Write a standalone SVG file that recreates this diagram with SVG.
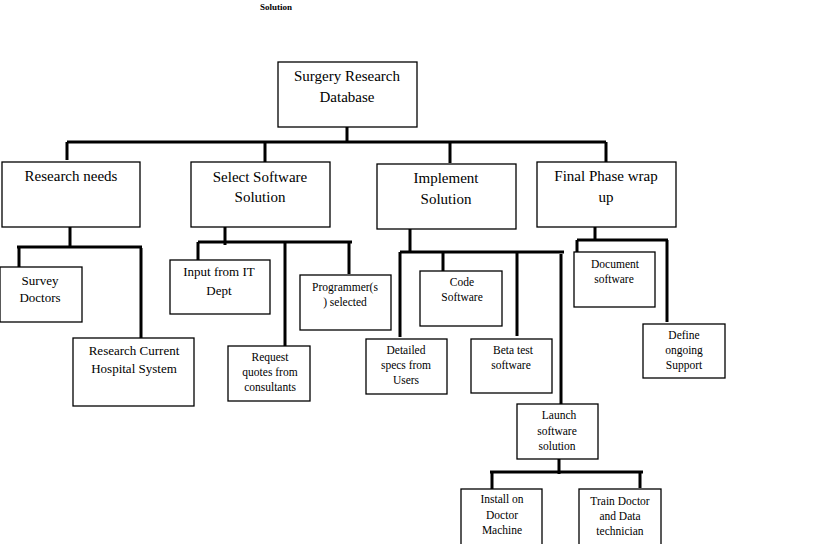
<svg xmlns="http://www.w3.org/2000/svg" width="819" height="544" viewBox="0 0 819 544">
<style>
.b{fill:#fff;stroke:#000;stroke-width:1.3}
.c{stroke:#000;stroke-width:3;fill:none}
text{font-family:"Liberation Serif","DejaVu Serif",serif;fill:#000;text-anchor:middle}
.l{font-size:15px}.s{font-size:11.5px}
</style>
<rect width="819" height="544" fill="#fff"/>
<text x="276" y="10" style="font-size:9px;font-weight:bold">Solution</text>
<g id="connectors" class="c">
<path d="M347 127V142M67 142H606M67 142V160M265 142V162M450 142V163M606 142V162"/>
<path d="M70 227V248M17 247H142M19 247V267M141 248V338"/>
<path d="M225 227V245M198 242H352M198 242V260M285 242V346M349 242V274"/>
<path d="M410 229V252M400 252H564M400 252V337M443 252V271M517 252V336M561 254V404"/>
<path d="M559 459V474M490 472H643M492 472V489M640 472V488"/>
<path d="M595 227V240M577 240H668M577 240V252M667 240V322"/>
</g>
<g id="root"><rect class="b" x="278" y="62" width="139" height="65"/><text class="l" x="347" y="81">Surgery Research</text><text class="l" x="347" y="102">Database</text></g>
<g id="research"><rect class="b" x="2" y="162" width="138" height="65"/><text class="l" x="71" y="181">Research needs</text></g>
<g id="select"><rect class="b" x="191" y="162" width="139" height="65"/><text class="l" x="260" y="182">Select Software</text><text class="l" x="260" y="202">Solution</text></g>
<g id="implement"><rect class="b" x="377" y="164" width="139" height="65"/><text class="l" x="446" y="183">Implement</text><text class="l" x="446" y="204">Solution</text></g>
<g id="final"><rect class="b" x="537" y="162" width="139" height="65"/><text class="l" x="606" y="181">Final Phase wrap</text><text class="l" x="606" y="202">up</text></g>
<g id="survey"><rect class="b" x="0" y="267" width="82" height="55"/><text class="s" x="40" y="285" style="font-size:13px">Survey</text><text class="s" x="40" y="302" style="font-size:13px">Doctors</text></g>
<g id="current"><rect class="b" x="73" y="338" width="121" height="68"/><text class="s" x="134" y="355" style="font-size:13px">Research Current</text><text class="s" x="134" y="373" style="font-size:13px">Hospital System</text></g>
<g id="input"><rect class="b" x="170" y="260" width="100" height="54"/><text class="s" x="219" y="276" style="font-size:13px">Input from IT</text><text class="s" x="219" y="295" style="font-size:13px">Dept</text></g>
<g id="programmer"><rect class="b" x="300" y="275" width="91" height="55"/><text class="s" x="345" y="291">Programmer(s</text><text class="s" x="345" y="306">) selected</text></g>
<g id="request"><rect class="b" x="228" y="346" width="82" height="55"/><text class="s" x="270" y="361">Request</text><text class="s" x="270" y="376">quotes from</text><text class="s" x="270" y="391">consultants</text></g>
<g id="detailed"><rect class="b" x="366" y="339" width="81" height="55"/><text class="s" x="406" y="354">Detailed</text><text class="s" x="406" y="369">specs from</text><text class="s" x="406" y="384">Users</text></g>
<g id="code"><rect class="b" x="420" y="271" width="82" height="55"/><text class="s" x="462" y="286">Code</text><text class="s" x="462" y="301">Software</text></g>
<g id="beta"><rect class="b" x="471" y="339" width="81" height="54"/><text class="s" x="513" y="354">Beta test</text><text class="s" x="511" y="369">software</text></g>
<g id="launch"><rect class="b" x="517" y="404" width="81" height="55"/><text class="s" x="559" y="419">Launch</text><text class="s" x="557" y="435">software</text><text class="s" x="557" y="450">solution</text></g>
<g id="install"><rect class="b" x="461" y="489" width="81" height="56"/><text class="s" x="502" y="503">Install on</text><text class="s" x="502" y="519">Doctor</text><text class="s" x="502" y="534">Machine</text></g>
<g id="train"><rect class="b" x="579" y="489" width="82" height="56"/><text class="s" x="620" y="505">Train Doctor</text><text class="s" x="620" y="520">and Data</text><text class="s" x="620" y="535">technician</text></g>
<g id="document"><rect class="b" x="574" y="252" width="81" height="55"/><text class="s" x="615" y="268">Document</text><text class="s" x="614" y="283">software</text></g>
<g id="define"><rect class="b" x="643" y="324" width="82" height="54"/><text class="s" x="684" y="339">Define</text><text class="s" x="684" y="354">ongoing</text><text class="s" x="684" y="369">Support</text></g>
</svg>
